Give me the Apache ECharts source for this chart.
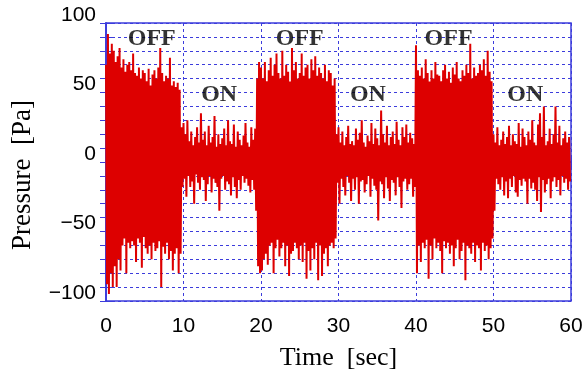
<!DOCTYPE html>
<html><head><meta charset="utf-8">
<script src="https://cdn.jsdelivr.net/npm/echarts@6/dist/echarts.min.js"></script>
<style>html,body{margin:0;padding:0;background:#fff}#c{width:582px;height:376px}</style>
</head><body><div id="c"></div>
<script>
// sample interval of the recorded signal [sec]
const sampleStep = 0.125;
// Pressure [Pa], segment by segment
const off1 = [70,-88,92,-95,78,-80,85,-90, 80,-75,72,-90,76,-70,82,-78, 68,-60,74,-55,65,-80,70,-58, 72,-62,66,-57,78,-60,64,-72,
  62,-55,68,-58,60,-76,66,-54, 64,-62,58,-66,67,-60,55,-70, 63,-58,66,-64,60,-62,68,-57, 82,-90,64,-61,58,-66,62,-58,
  60,-70,75,-64,55,-78,58,-66, 54,-62,57,-80,52,-66,25,-18];
const on1 = [28,-12,20,-25,30,-10,15,-18, 22,-14,12,-30,18,-9,25,-15, 14,-20,35,-11,16,-13,22,-28, 12,-16,26,-10,14,-22,18,-12,
  33,-15,11,-18,20,-35,13,-12, 17,-10,24,-20,12,-14,30,-16, 15,-24,13,-11,27,-18,11,-26, 22,-13,16,-20,12,-10,19,-15,
  28,-12,14,-17,11,-22,25,-13, 16,-20,24,-35,60,-75,72,-80];
const off2 = [68,-78,60,-70,72,-66,58,-74, 66,-60,75,-58,62,-80,70,-62, 78,-56,64,-68,60,-62,80,-58, 62,-75,70,-60,65,-82,58,-66,
  82,-64,66,-58,72,-62,60,-70, 64,-60,78,-72,62,-58,68,-84, 70,-64,60,-78,74,-62,66,-70, 76,-58,62,-85,68,-60,64,-82,
  60,-66,70,-62,58,-75,66,-60, 64,-58,55,-62,60,-55,20,-15];
const on2 = [25,-30,14,-12,22,-18,12,-24, 18,-10,26,-15,13,-28,15,-12, 12,-20,24,-11,16,-30,21,-14, 30,-13,14,-22,11,-16,19,-10,
  15,-25,28,-12,13,-17,24,-20, 17,-42,12,-14,37,-16,20,-26, 14,-11,26,-19,12,-28,18,-13, 22,-15,13,-24,29,-11,16,-18,
  12,-33,25,-14,18,-12,27,-20, 14,-16,21,-12,17,-25,13,-18];
const off3 = [84,-80,66,-60,62,-72,68,-58, 60,-62,74,-56,64,-84,58,-60, 66,-70,60,-55,72,-62,63,-58, 62,-64,58,-80,66,-57,70,-62,
  60,-58,65,-66,57,-60,68,-75, 63,-62,72,-56,60,-70,58,-64, 66,-58,62,-85,70,-60,64,-62, 85,-66,60,-58,68,-72,62,-60,
  64,-62,70,-78,66,-58,74,-64, 62,-60,80,-70,65,-62,58,-55];
const on3 = [20,-35,14,-12,25,-16,12,-20, 16,-11,22,-24,13,-14,18,-26, 26,-12,12,-18,20,-10,15,-22, 13,-25,28,-13,11,-17,24,-12,
  18,-14,12,-30,22,-12,16,-19, 30,-15,14,-20,12,-28,27,-11, 35,-36,18,-13,40,-22,12,-16, 15,-12,24,-26,13,-14,20,-11,
  40,-18,14,-13,26,-24,12,-10, 17,-15,22,-12,14,-20,18,-14];

const xMin = 0, xMax = 60, xStep = 10;
const yMin = -100, yMax = 100, yStep = 10, yLabelStep = 50;

// annotations
const annotText = ['OFF','ON','OFF','ON','OFF','ON'];
const annotX = [5.9, 14.6, 25.0, 33.8, 44.2, 54.1];
const annotY = [88.5, 48.5, 88.5, 48.5, 88.5, 48.5];

const pressure = [].concat(off1, on1, off2, on2, off3, on3);
const signal = pressure.map((v, i) => [i * sampleStep, v]);
const annots = annotText.map((t, i) => [annotX[i], annotY[i], t]);

const blue = '#3c3cdc';
const grid = {type: [3, 3], color: blue, width: 1};

const chart = echarts.init(document.getElementById('c'), null, {renderer: 'canvas'});
chart.setOption({
  animation: false,
  backgroundColor: '#fff',
  grid: {left: 106, right: 11, top: 23, bottom: 75, show: true, borderColor: blue, borderWidth: 1.5,
    backgroundColor: 'transparent', containLabel: false, outerBoundsMode: 'none'},
  xAxis: [{
    type: 'value', min: xMin, max: xMax, interval: xStep,
    name: 'Time  [sec]', nameLocation: 'middle', nameGap: 44,
    nameTextStyle: {fontFamily: 'Liberation Serif', fontSize: 26, color: '#000'},
    axisLine: {show: true, lineStyle: {color: blue, width: 1.5}},
    axisTick: {show: true, inside: true, length: 6, lineStyle: {color: blue}},
    axisLabel: {margin: 15, fontFamily: 'Liberation Sans', fontSize: 21, color: '#000'},
    splitLine: {show: true, lineStyle: grid}
  }, {
    type: 'value', min: xMin, max: xMax, interval: xStep, position: 'top',
    axisLine: {show: true, lineStyle: {color: blue, width: 1.5}},
    axisTick: {show: true, inside: true, length: 6, lineStyle: {color: blue}},
    axisLabel: {show: false}, splitLine: {show: false}
  }],
  yAxis: [{
    type: 'value', min: yMin, max: yMax, interval: yStep,
    name: 'Pressure  [Pa]', nameLocation: 'middle', nameGap: 70, nameRotate: 90,
    nameTextStyle: {fontFamily: 'Liberation Serif', fontSize: 27, color: '#000', padding: [0, 26, 0, 0]},
    axisLine: {show: true, lineStyle: {color: blue, width: 1.5}},
    axisTick: {show: true, inside: true, length: 6, lineStyle: {color: blue}},
    axisLabel: {
      margin: 10, fontFamily: 'Liberation Sans', fontSize: 21, color: '#000',
      verticalAlign: 'bottom', lineHeight: 16,
      formatter: v => (v % yLabelStep === 0 ? (v < 0 ? '\u2212' + Math.abs(v) : String(v)) : '')
    },
    splitLine: {show: true, lineStyle: grid}
  }, {
    type: 'value', min: yMin, max: yMax, interval: yStep, position: 'right',
    axisLine: {show: true, lineStyle: {color: blue, width: 1.5}},
    axisTick: {show: true, inside: true, length: 6, lineStyle: {color: blue}},
    axisLabel: {show: false}, splitLine: {show: false}
  }],
  series: [{
    type: 'line', data: signal, showSymbol: false, symbol: 'none', sampling: false,
    lineStyle: {color: '#dd0000', width: 2}, z: 3
  }, {
    type: 'scatter', data: annots, symbolSize: 0, z: 5,
    label: {show: true, position: 'inside', formatter: p => p.data[2],
      fontFamily: 'Liberation Serif', fontWeight: 'bold', fontSize: 24, color: '#000'}
  }]
});
</script></body></html>
